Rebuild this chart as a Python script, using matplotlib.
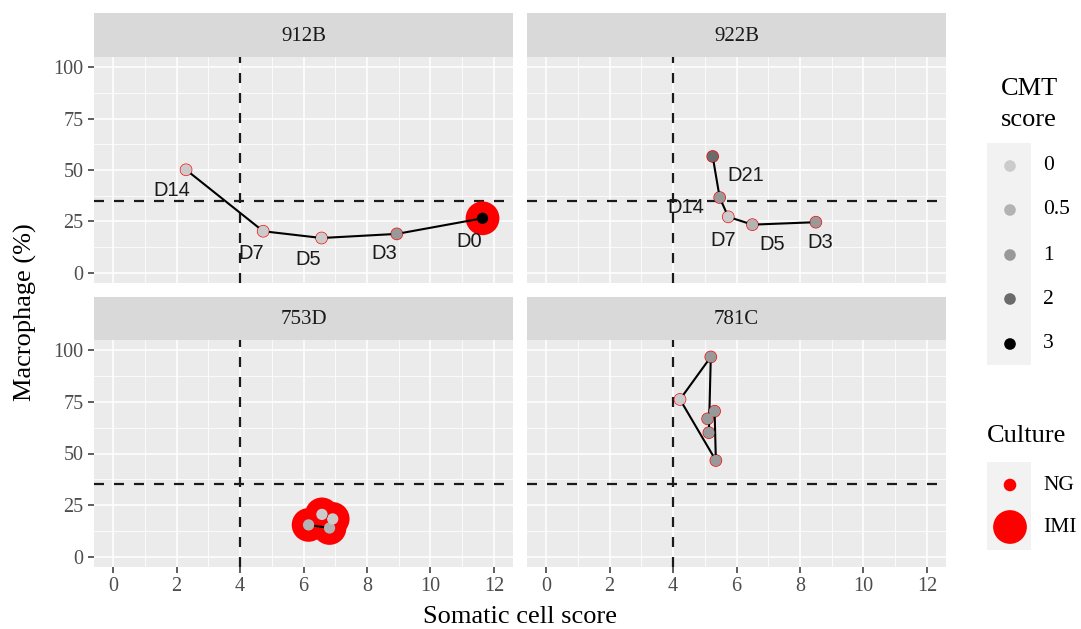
import matplotlib
matplotlib.use('Agg')
import matplotlib.pyplot as plt

# facet order
cows = ['912B', '922B', '753D', '781C']

# 912B
scc_912B = [11.64, 8.94, 6.57, 4.73, 2.30]
mac_912B = [26.5, 18.9, 16.9, 20.2, 50.1]
cmt_912B = [3, 1, 0, 0, 0]
cult_912B = ['IMI', 'NG', 'NG', 'NG', 'NG']
day_912B = ['D0', 'D3', 'D5', 'D7', 'D14']

# 922B
scc_922B = [8.50, 6.50, 5.74, 5.47, 5.25]
mac_922B = [24.6, 23.4, 27.2, 36.6, 56.6]
cmt_922B = [1, 0.5, 0, 1, 2]
cult_922B = ['NG', 'NG', 'NG', 'NG', 'NG']
day_922B = ['D3', 'D5', 'D7', 'D14', 'D21']

# 753D
scc_753D = [6.16, 6.82, 6.92, 6.58]
mac_753D = [15.4, 13.9, 18.3, 20.5]
cmt_753D = [0.5, 0.5, 0, 0]
cult_753D = ['IMI', 'IMI', 'IMI', 'IMI']

# 781C
scc_781C = [5.13, 5.19, 4.22, 5.35, 5.31, 5.09]
mac_781C = [60.1, 96.8, 76.2, 46.6, 70.5, 66.8]
cmt_781C = [1, 1, 0, 1, 1, 1]
cult_781C = ['NG', 'NG', 'NG', 'NG', 'NG', 'NG']

cmt_levels = [0, 0.5, 1, 2, 3]
culture_levels = ['NG', 'IMI']

# thresholds
scc_cut = 4
mac_cut = 35

panels = {
    '912B': (scc_912B, mac_912B, cmt_912B, cult_912B, day_912B),
    '922B': (scc_922B, mac_922B, cmt_922B, cult_922B, day_922B),
    '753D': (scc_753D, mac_753D, cmt_753D, cult_753D, None),
    '781C': (scc_781C, mac_781C, cmt_781C, cult_781C, None),
}

# label nudges (pixels, right / down)
nudges = {
    '912B': [(-13, 23), (-13, 20), (-13, 21), (-12, 22), (-14, 21)],
    '922B': [(4, 20), (20, 20), (-5, 24), (-34, 10), (33, 19)],
}

grey = {0: '#cbcbcb', 0.5: '#b3b3b3', 1: '#999999', 2: '#6b6b6b', 3: '#000000'}
size_red = {'NG': 82, 'IMI': 590}
size_grey = 66

serif = 'Liberation Serif'
sans = 'Liberation Sans'

W, H = 1081, 629
fig = plt.figure(figsize=(W / 100, H / 100), dpi=100)


def px(x0, y0, x1, y1):
    return [x0 / W, 1 - y1 / H, (x1 - x0) / W, (y1 - y0) / H]


cols = [(94, 513), (527, 946)]
rows = [(13, 57, 283), (297, 340, 567)]

for i, cow in enumerate(cows):
    r, c = divmod(i, 2)
    x0, x1 = cols[c]
    s0, p0, p1 = rows[r]

    strip = fig.add_axes(px(x0, s0, x1, p0))
    strip.set_facecolor('#d9d9d9')
    strip.set_xticks([])
    strip.set_yticks([])
    for sp in strip.spines.values():
        sp.set_visible(False)
    strip.text(0.5, 0.47, cow, ha='center', va='center', fontsize=15,
               family=serif, color='#1a1a1a', transform=strip.transAxes)

    ax = fig.add_axes(px(x0, p0, x1, p1))
    ax.set_facecolor('#ebebeb')
    for sp in ax.spines.values():
        sp.set_visible(False)
    ax.set_xlim(-0.6, 12.6)
    ax.set_ylim(-5, 105)
    ax.set_xticks(range(0, 13, 2))
    ax.set_xticks(range(1, 13, 2), minor=True)
    ax.set_yticks([0, 25, 50, 75, 100])
    ax.set_yticks([12.5, 37.5, 62.5, 87.5], minor=True)
    ax.grid(which='major', color='white', lw=1.1)
    ax.grid(which='minor', color='white', lw=0.55)
    ax.set_axisbelow(True)
    ax.tick_params(which='minor', length=0)
    ax.tick_params(which='major', length=4.5, width=1.1, color='#333333',
                   labelcolor='#4d4d4d', labelsize=14.5, pad=3)
    for lab in ax.get_xticklabels() + ax.get_yticklabels():
        lab.set_family(serif)
    ax.tick_params(left=(c == 0), labelleft=(c == 0),
                   bottom=(r == 1), labelbottom=(r == 1))

    ax.axhline(mac_cut, color='#1a1a1a', lw=1.6, ls=(0, (4.5, 4.5)), zorder=2)
    ax.axvline(scc_cut, color='#1a1a1a', lw=1.6, ls=(0, (4.5, 4.5)), zorder=2)

    scc, mac, cmt, cult, days = panels[cow]
    ax.scatter(scc, mac, s=[size_red[k] for k in cult], color='red',
               edgecolors='none', zorder=3)
    ax.plot(scc, mac, color='black', lw=1.5, zorder=4)
    ax.scatter(scc, mac, s=size_grey, color=[grey[k] for k in cmt],
               edgecolors='none', zorder=5)
    if days is not None:
        for x, y, d, (dx, dy) in zip(scc, mac, days, nudges[cow]):
            ax.annotate(d, (x, y), xytext=(dx * 0.72, -dy * 0.72),
                        textcoords='offset points', ha='center', va='center',
                        fontsize=14.5, family=sans, color='#1a1a1a', zorder=6)

fig.text(25 / W, 1 - 312 / H, 'Macrophage (%)', rotation=90, ha='center',
         va='center', fontsize=19, family=serif)
fig.text(520 / W, 1 - 617 / H, 'Somatic cell score', ha='center',
         va='center', fontsize=19, family=serif)

# legends drawn in a pixel-space overlay
leg = fig.add_axes([0, 0, 1, 1])
leg.set_xlim(0, W)
leg.set_ylim(H, 0)
leg.axis('off')

leg.text(1029, 89, 'CMT', ha='center', va='center', fontsize=19, family=serif)
leg.text(1029, 120, 'score', ha='center', va='center', fontsize=19, family=serif)
leg.add_patch(plt.Rectangle((987, 143), 44, 222, color='#f2f2f2', lw=0))
key_y = [166, 210, 255, 299, 344]
for v, y in zip(cmt_levels, key_y):
    leg.scatter([1010], [y], s=70, color=grey[v], edgecolors='none')
    leg.text(1043, y, f'{v:g}', ha='left', va='center', fontsize=15.5,
             family=serif)

leg.text(987, 436, 'Culture', ha='left', va='center', fontsize=19, family=serif)
leg.add_patch(plt.Rectangle((987, 462), 44, 88, color='#f2f2f2', lw=0))
for v, y in zip(culture_levels, [485, 527]):
    leg.scatter([1010], [y], s=size_red[v], color='red', edgecolors='none')
    leg.text(1043, y, v, ha='left', va='center', fontsize=15.5, family=serif)

fig.savefig('out.png', dpi=100, facecolor='white')
